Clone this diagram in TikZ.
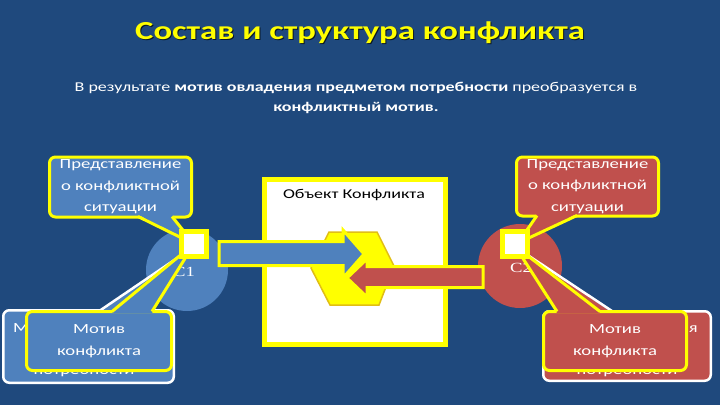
\documentclass[tikz,border=0pt]{standalone}
\usepackage{fontspec}
\setmainfont{Carlito}[FakeStretch=1.333]
\newfontfamily\serifC{Liberation Serif}[FakeStretch=1.333]
\definecolor{bg}{RGB}{31,73,125}
\definecolor{cblue}{RGB}{79,129,189}
\definecolor{cred}{RGB}{192,80,77}
\definecolor{cyel}{RGB}{255,255,0}
\definecolor{hexb}{RGB}{225,190,20}
\begin{document}
\begin{tikzpicture}[x=1pt,y=-1pt,
  callbox/.style={rounded corners=6pt, align=center, text=white, inner sep=0pt,
     font=\fontsize{14}{21.5}\selectfont},
  frontbox/.style={callbox, draw=cyel, line width=3pt},
  backbox/.style={callbox, draw=white, line width=2.5pt},
  backtext/.style={align=center, text=white, font=\fontsize{14}{21}\selectfont},
  sqbox/.style={draw=cyel, line width=5pt, fill=white, minimum size=25pt, inner sep=0pt},
  yedge/.style={draw=cyel, line width=3pt},
  wedge/.style={draw=white, line width=2.5pt},
  blockarrow/.style={draw=cyel, line width=3pt, line join=miter},
  clabel/.style={text=white, font=\serifC\fontsize{14}{14}\selectfont}
]
\fill[bg] (0,0) rectangle (720,405);
\useasboundingbox (0,0) rectangle (720,405);

% title and subtitle
\node[text=black!70!bg, font=\fontsize{26}{30}\selectfont\bfseries] (titles) at (361,34) {Состав и структура конфликта};
\node[text=cyel, font=\fontsize{26}{30}\selectfont\bfseries] (title) at (360,33) {Состав и структура конфликта};
\node[text=white, align=center, font=\fontsize{13.5}{20}\selectfont] (sub) at (356,98)
  {В результате \textbf{мотив овладения предметом потребности} преобразуется в\\ \textbf{конфликтный мотив.}};

% circles
\node[circle, fill=cblue, minimum size=82pt, inner sep=0pt] (c1) at (187,270) {};
\node[circle, fill=cred, minimum size=84pt, inner sep=0pt] (c2) at (520,266) {};
\node[clabel] (c1l) at (184,272) {C1};
\node[clabel] (c2l) at (521,268) {C2};

% object box
\node[draw=cyel, line width=5pt, fill=white, minimum width=181pt, minimum height=165pt, inner sep=0pt] (obj) at (355,262) {};
\node[text=black, font=\fontsize{13.5}{18}\selectfont] (objl) at (354,195) {Объект Конфликта};

% hexagon
\filldraw[fill=cyel, draw=hexb, line width=1.5pt] (311,268) -- (329,232) -- (377,232) -- (394,266) -- (379,305) -- (330,305) -- cycle;

% arrows
\filldraw[blockarrow, fill=cblue] (219,241.5) -- (343,241.5) -- (343,230) -- (364,254) -- (343,278) -- (343,265.5) -- (219,265.5) -- cycle;
\filldraw[blockarrow, fill=cred] (483,266.5) -- (367,266.5) -- (367,259) -- (347,278) -- (367,297) -- (367,287.5) -- (483,287.5) -- cycle;

% left top callout
\node[frontbox, fill=cblue, minimum width=142pt, minimum height=60pt] (lt) at (120.5,187)
  {Представление\\о конфликтной\\ситуации};
\fill[cblue] (138,214.5) -- (194,244) -- (172,214.5) -- cycle;
\draw[yedge] (138,216.5) -- (194,244) -- (172,216.5);

% left bottom back callout
\node[backbox, fill=cblue, minimum width=170.5pt, minimum height=72.5pt] (lbb) at (88.5,346.5) {};
\node[backtext] (lbbt) at (84,350) {Мотив овладения\\предметом\\потребности};
\fill[cblue] (100,312) -- (192,248) -- (140,312) -- cycle;
\draw[wedge] (100,310.5) -- (192,248) -- (140,310.5);

% left bottom front callout
\node[frontbox, fill=cblue, minimum width=145pt, minimum height=59pt] (lbf) at (99,341)
  {Мотив\\конфликта};
\fill[cblue] (112,313) -- (194,244) -- (152,313) -- cycle;
\draw[yedge] (112,311.5) -- (194,244) -- (152,311.5);

% right top callout
\node[frontbox, fill=cred, minimum width=142pt, minimum height=59pt] (rt) at (587.5,186.5)
  {Представление\\о конфликтной\\ситуации};
\fill[cred] (537,213.5) -- (518,243) -- (577,213.5) -- cycle;
\draw[yedge] (537,215.5) -- (518,243) -- (577,215.5);

% right bottom back callout
\node[backbox, fill=cred, minimum width=167.5pt, minimum height=69.5pt] (rbb) at (627,346) {};
\node[backtext] (rbbt) at (627,350) {Мотив овладения\\предметом\\потребности};
\fill[cred] (570,312.5) -- (517,248) -- (612,312.5) -- cycle;
\draw[wedge] (570,311) -- (517,248) -- (612,311);

% right bottom front callout
\node[frontbox, fill=cred, minimum width=143pt, minimum height=59pt] (rbf) at (615,341)
  {Мотив\\конфликта};
\fill[cred] (557,313) -- (515,246) -- (600,313) -- cycle;
\draw[yedge] (557,311.5) -- (515,246) -- (600,311.5);

% squares
\node[sqbox] (s1) at (194,244) {};
\node[sqbox] (s2) at (515,244) {};
\end{tikzpicture}
\end{document}
